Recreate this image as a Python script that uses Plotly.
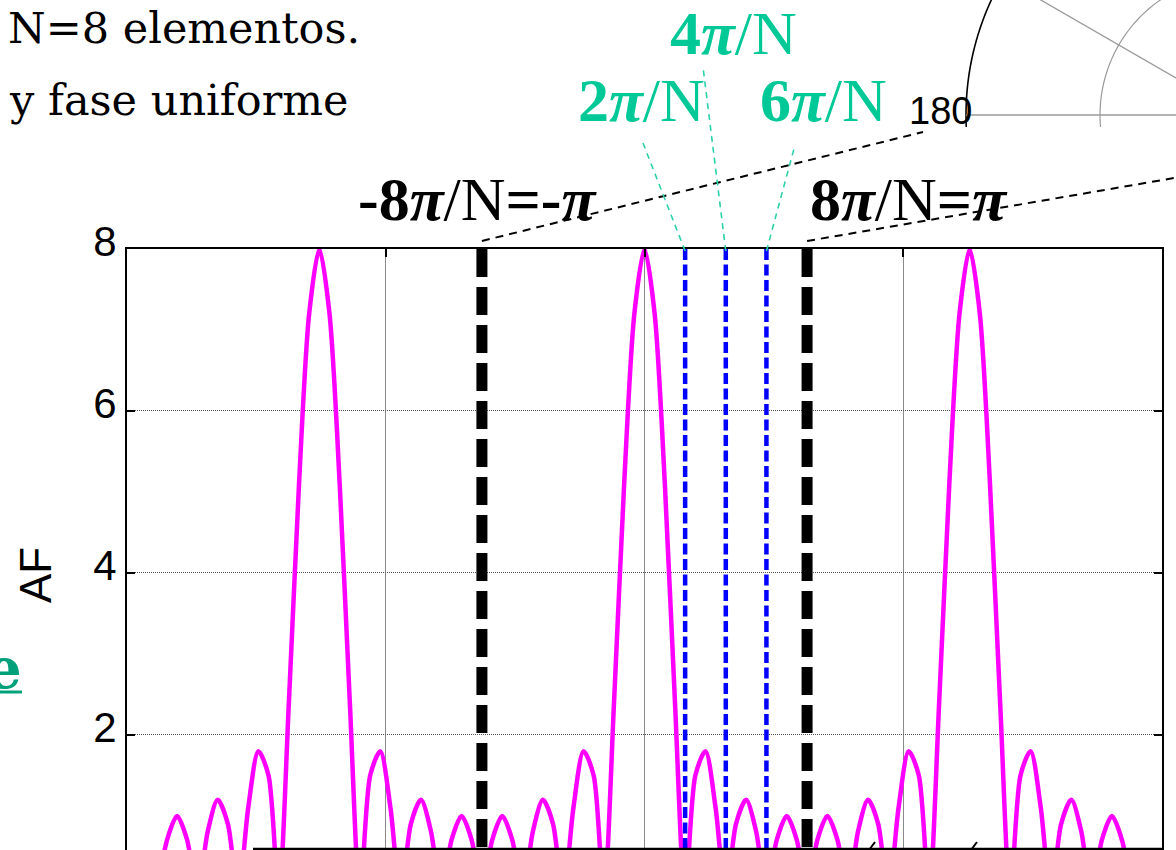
import math
import plotly.graph_objects as go

# ---------------- data ----------------
N = 8
psi = [-9.425, -9.228, -9.032, -8.836, -8.639, -8.443, -8.247, -8.050, -7.854, -7.658, -7.461, -7.265,
       -7.069, -6.872, -6.676, -6.480, -6.283,
       -6.087, -5.890, -5.694, -5.498, -5.301, -5.105, -4.909, -4.712, -4.516, -4.320, -4.123, -3.927,
       -3.731, -3.534, -3.338, -3.142,
       -2.945, -2.749, -2.553, -2.356, -2.160, -1.963, -1.767, -1.571, -1.374, -1.178, -0.982, -0.785,
       -0.589, -0.393, -0.196, 0.0,
       0.196, 0.393, 0.589, 0.785, 0.982, 1.178, 1.374, 1.571, 1.767, 1.963, 2.160, 2.356,
       2.553, 2.749, 2.945, 3.142,
       3.338, 3.534, 3.731, 3.927, 4.123, 4.320, 4.516, 4.712, 4.909, 5.105, 5.301, 5.498,
       5.694, 5.890, 6.087, 6.283,
       6.480, 6.676, 6.872, 7.069, 7.265, 7.461, 7.658, 7.854, 8.050, 8.247, 8.443, 8.639,
       8.836, 9.032, 9.228, 9.425]
af = [0, 0.7, 1.0, 0.7, 0, 0.8, 1.2, 0.9, 0, 1.1, 1.8, 1.5, 0, 2.4, 5.1, 7.2, 8,
      7.2, 5.1, 2.4, 0, 1.5, 1.8, 1.1, 0, 0.9, 1.2, 0.8, 0, 0.7, 1.0, 0.7, 0,
      0.7, 1.0, 0.7, 0, 0.8, 1.2, 0.9, 0, 1.1, 1.8, 1.5, 0, 2.4, 5.1, 7.2, 8,
      7.2, 5.1, 2.4, 0, 1.5, 1.8, 1.1, 0, 0.9, 1.2, 0.8, 0, 0.7, 1.0, 0.7, 0,
      0.7, 1.0, 0.7, 0, 0.8, 1.2, 0.9, 0, 1.1, 1.8, 1.5, 0, 2.4, 5.1, 7.2, 8,
      7.2, 5.1, 2.4, 0, 1.5, 1.8, 1.1, 0, 0.9, 1.2, 0.8, 0, 0.7, 1.0, 0.7, 0]

pi_lines = [-3.1416, 3.1416]            # -8pi/N = -pi , 8pi/N = pi
null_lines = [0.7854, 1.5708, 2.3562]   # 2pi/N, 4pi/N, 6pi/N
x_ticks = [-10, -5, 0, 5, 10]
y_ticks = [2, 4, 6, 8]
y_ticktext = ["2", "4", "6", "8"]
x_range = [-10, 10]
y_range = [0.58, 8]

# ---------------- layout geometry (pixels) ----------------
W, H = 1176, 850
PL, PR, PT, PB = 127, 1162, 249, 850


def px(x):
    return (x - PL) / (PR - PL)


def py(y):
    return (PB - y) / (PB - PT)


def dx(v):  # data x -> paper x
    return (v - x_range[0]) / (x_range[1] - x_range[0])


fig = go.Figure()

fig.add_trace(go.Scatter(x=psi, y=af, mode="lines",
                         line=dict(color="#FF00FF", width=4.5, shape="spline", smoothing=0.8),
                         hoverinfo="skip", showlegend=False))

for v in pi_lines:
    fig.add_trace(go.Scatter(x=[v, v], y=[8, 0], mode="lines",
                             line=dict(color="black", width=11, dash="28px,10px"),
                             hoverinfo="skip", showlegend=False))
for v in null_lines:
    fig.add_trace(go.Scatter(x=[v, v], y=[8, 0], mode="lines",
                             line=dict(color="#0000FF", width=4.5, dash="11px,4.5px"),
                             hoverinfo="skip", showlegend=False))

shapes = []
# bottom edge line (overlay border)
shapes.append(dict(type="line", xref="paper", yref="paper", x0=px(253), x1=px(1162),
                   y0=py(849), y1=py(849), line=dict(color="black", width=2.5)))
for xs in (872, 974):
    shapes.append(dict(type="line", xref="paper", yref="paper", x0=px(xs - 3), x1=px(xs + 3),
                       y0=py(850), y1=py(842), line=dict(color="black", width=2)))

# black leader lines
shapes.append(dict(type="line", xref="paper", yref="paper", x0=dx(pi_lines[0]), y0=py(241),
                   x1=px(923), y1=py(132), line=dict(color="black", width=2, dash="8px,6px")))
shapes.append(dict(type="line", xref="paper", yref="paper", x0=dx(pi_lines[1]), y0=py(241),
                   x1=px(1180), y1=py(177), line=dict(color="black", width=2, dash="8px,6px")))
# teal leader lines
teal_line = "#2BD1A8"
for v, (tx, ty) in zip(null_lines, [(643, 143), (703, 67), (795, 145)]):
    shapes.append(dict(type="line", xref="paper", yref="paper", x0=dx(v), y0=py(251),
                       x1=px(tx), y1=py(ty), line=dict(color=teal_line, width=1.6, dash="6px,5px")))

# underline of the green "e"
shapes.append(dict(type="line", xref="paper", yref="paper", x0=px(-2), x1=px(22),
                   y0=py(692), y1=py(692), line=dict(color="#00A07A", width=3)))

# polar plot fragment (top right)
cx, cy = 1240, 115


def arc_path(r, y_top, y_bot, n=24):
    pts = []
    for i in range(n + 1):
        yy = y_top + (y_bot - y_top) * i / n
        xx = cx - math.sqrt(r * r - (yy - cy) ** 2)
        pts.append((px(xx), py(yy)))
    return "M " + " L ".join(f"{a:.5f},{b:.5f}" for a, b in pts)


shapes.append(dict(type="path", xref="paper", yref="paper", path=arc_path(274, -2, 127),
                   line=dict(color="black", width=1.6)))
shapes.append(dict(type="path", xref="paper", yref="paper", path=arc_path(140, -2, 127),
                   line=dict(color="#9a9a9a", width=1.2)))
shapes.append(dict(type="line", xref="paper", yref="paper", x0=px(966), x1=px(1180),
                   y0=py(115), y1=py(115), line=dict(color="#9a9a9a", width=1.3)))
shapes.append(dict(type="line", xref="paper", yref="paper",
                   x0=px(cx - 0.866 * 69), y0=py(cy - 0.5 * 69),
                   x1=px(cx - 0.866 * 274), y1=py(cy - 0.5 * 274),
                   line=dict(color="#9a9a9a", width=1.3)))

ann = []
serif = "DejaVu Serif"
tnr = "Liberation Serif"
teal = "#00C896"
PI = "<i>π</i>"
ann.append(dict(text="N=8 elementos.", x=px(362), y=py(28), xanchor="right", yanchor="middle",
                font=dict(family=serif, size=43, color="black")))
ann.append(dict(text="y fase uniforme", x=px(350), y=py(100), xanchor="right", yanchor="middle",
                font=dict(family=serif, size=43, color="black")))
for txt, lx, my in [(f"<b>4{PI}</b>/N", 668, 33), (f"<b>2{PI}</b>/N", 576, 100),
                    (f"<b>6{PI}</b>/N", 758, 100)]:
    ann.append(dict(text=txt, x=px(lx), y=py(my), xanchor="left", yanchor="middle",
                    font=dict(family=tnr, size=62, color=teal)))
ann.append(dict(text=f"<b>-8{PI}</b>/N<b>=-{PI}</b>", x=px(356), y=py(199), xanchor="left",
                yanchor="middle", font=dict(family=tnr, size=62, color="black")))
ann.append(dict(text=f"<b>8{PI}</b>/N<b>={PI}</b>", x=px(808), y=py(199), xanchor="left",
                yanchor="middle", font=dict(family=tnr, size=62, color="black")))
ann.append(dict(text="180", x=px(907), y=py(111), xanchor="left", yanchor="middle",
                font=dict(family="Liberation Sans", size=38, color="black")))
ann.append(dict(text="AF", x=px(35), y=py(575), xanchor="center", yanchor="middle", textangle=-90,
                font=dict(family="Liberation Sans", size=44, color="black")))
ann.append(dict(text="<b>e</b>", x=px(24), y=py(668), xanchor="right", yanchor="middle",
                font=dict(family=serif, size=56, color="#00A07A")))
for a in ann:
    a.update(xref="paper", yref="paper", showarrow=False)

fig.update_layout(
    width=W, height=H,
    margin=dict(l=PL, r=W - PR, t=PT, b=H - PB, autoexpand=False),
    paper_bgcolor="white", plot_bgcolor="white",
    showlegend=False,
    shapes=shapes, annotations=ann,
    xaxis=dict(range=x_range, side="top", showline=True, linecolor="black", linewidth=2,
               ticks="inside", ticklen=8, tickwidth=2, tickcolor="black", tickvals=x_ticks,
               showticklabels=False, showgrid=True, gridcolor="#8a8a8a", gridwidth=1,
               zeroline=False, automargin=False, fixedrange=True),
    yaxis=dict(range=y_range, showline=True, mirror="ticks", linecolor="black", linewidth=2,
               ticks="inside", ticklen=8, tickwidth=2, tickcolor="black",
               tickvals=y_ticks, ticktext=y_ticktext, ticklabelshift=-8,
               tickfont=dict(family="Liberation Sans", size=42, color="black"),
               showgrid=True, gridcolor="#555555", gridwidth=1, griddash="1px,1px",
               zeroline=False, automargin=False, fixedrange=True),
)

fig.write_html("out.html", config={"displayModeBar": False},
               post_script="document.body.style.margin='0px';document.body.style.overflow='hidden';")
